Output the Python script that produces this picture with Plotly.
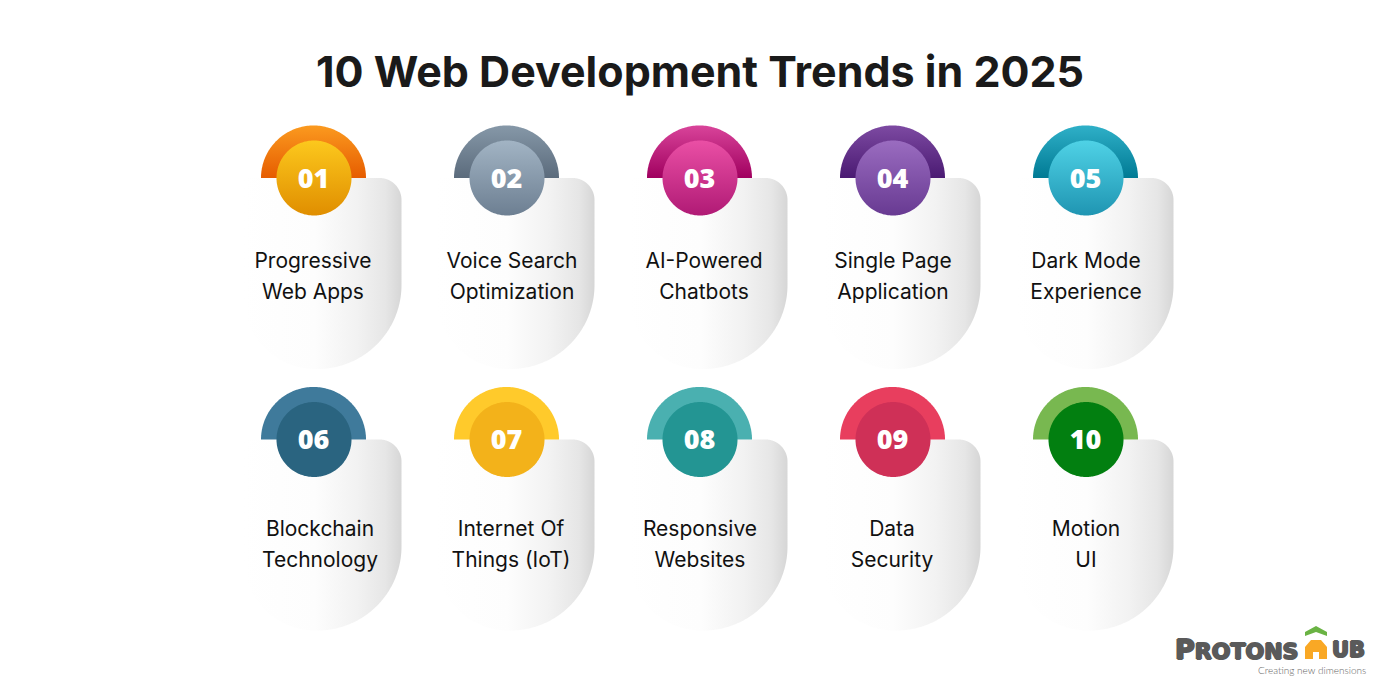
import numpy as np
import pandas as pd
import plotly.express as px
import plotly.graph_objects as go

# Les valeurs
numbers = ["01", "02", "03", "04", "05", "06", "07", "08", "09", "10"]
lines_top = ["Progressive", "Voice Search", "AI-Powered", "Single Page", "Dark Mode",
             "Blockchain", "Internet Of", "Responsive", "Data", "Motion"]
lines_bottom = ["Web Apps", "Optimization", "Chatbots", "Application", "Experience",
                "Technology", "Things (IoT)", "Websites", "Security", "UI"]
outer_top = ["#fb9a1f", "#8698a8", "#d9449a", "#7d4aa2", "#2fb0c8",
             "#3f7a9b", "#ffca2b", "#4ab0b0", "#e83e5e", "#78b850"]
outer_bottom = ["#e65c00", "#5b6b7c", "#a0005f", "#4a1a72", "#007a94",
                "#3f7a9b", "#ffca2b", "#4ab0b0", "#e83e5e", "#78b850"]
inner_top = ["#fcc81d", "#a2b4c4", "#ea4fa5", "#9a6cc0", "#4fd2e6",
             "#2a6480", "#f3b21a", "#239593", "#cf3057", "#027f10"]
inner_bottom = ["#e08e00", "#6d7f92", "#b01a75", "#683a92", "#1f95b2",
                "#2a6480", "#f3b21a", "#239593", "#cf3057", "#027f10"]

# Le centre des textes ne suit pas tout à fait la colonne
label_centers = [313, 512, 704, 893, 1086, 320, 511, 700, 892, 1086]

LOGO_GREY = "#5a5a5a"
THICK = f"1px 0 0 {LOGO_GREY}, -1px 0 0 {LOGO_GREY}, 0 1px 0 {LOGO_GREY}, 0 -1px 0 {LOGO_GREY}"  # lettres plus grasses


def arc(cx, cy, r, start, stop, n=120):
    """Renvoie les points d'un arc de cercle (repère en pixels, y vers le bas)."""
    angles = np.linspace(start, stop, n)
    return cx + r * np.cos(angles), cy - r * np.sin(angles)


def card_outline(left, right, top, bottom):
    """Contour de la carte : coin haut droit serré, deux grands coins en bas."""
    xa, ya = arc(right - 22, top + 22, 22, np.pi / 2, 0)
    xb, yb = arc(right - 84, bottom - 84, 84, 0, -np.pi / 2)
    xc, yc = arc(left + 72, bottom - 72, 72, -np.pi / 2, -np.pi)
    x = np.concatenate([[left], xa, xb, xc, [left]])
    y = np.concatenate([[top], ya, yb, yc, [top]])
    return x, y


def add_filled(fig, x, y, gradient_type, colorscale):
    """Ajoute une forme pleine avec un dégradé."""
    fig.add_trace(go.Scatter(x=x, y=y, mode="lines", fill="toself", line=dict(width=0, simplify=False),
                             fillgradient=dict(type=gradient_type, colorscale=colorscale),
                             hoverinfo="skip", showlegend=False))


def add_card(fig, i):
    """Dessine une carte complète : fond, demi-cercle et disque."""
    cx = 313.5 + 193 * (i % 5)
    cy = 178 if i < 5 else 439.5

    x, y = card_outline(cx - 70, cx + 88, cy, cy + 191)
    add_filled(fig, x, y, "horizontal", [[0, "#ffffff"], [0.45, "#fdfdfd"], [0.72, "#f2f2f2"],
                                         [0.9, "#e6e6e6"], [1, "#d6d6d6"]])

    # L'axe y est inversé, donc le dégradé vertical part du bas
    x, y = arc(cx, cy, 52.5, np.pi, 0)
    add_filled(fig, x, y, "vertical", [[0, outer_bottom[i]], [1, outer_top[i]]])

    x, y = arc(cx + 0.5, cy, 37.5, 0, 2 * np.pi, n=240)
    add_filled(fig, x, y, "vertical", [[0, inner_bottom[i]], [1, inner_top[i]]])


def add_logo(fig):
    """Dessine le logo en bas à droite (maison orange et toit vert)."""
    house_x = np.array([1305, 1311, 1321, 1327, 1327, 1319, 1319, 1313, 1313, 1305])
    house_y = np.array([647, 640, 640, 647, 659, 659, 652, 652, 659, 659])
    fig.add_trace(go.Scatter(x=house_x, y=house_y, mode="lines", fill="toself", line=dict(width=0),
                             fillcolor="#f9a825", hoverinfo="skip", showlegend=False))
    roof_x = np.array([1305, 1316, 1327, 1327, 1316, 1305])
    roof_y = np.array([632, 626, 632, 636, 632, 636])
    fig.add_trace(go.Scatter(x=roof_x, y=roof_y, mode="lines", fill="toself", line=dict(width=0),
                             fillcolor="#6ab344", hoverinfo="skip", showlegend=False))

    fig.add_annotation(x=1173, y=649.5, text="<span style='font-size:27px'>P</span>ROTONS", xanchor="left",
                       yanchor="middle", showarrow=False,
                       font=dict(family="DejaVu Sans", size=22, weight=700, color=LOGO_GREY, shadow=THICK))
    fig.add_annotation(x=1367, y=650, text="UB", xanchor="right", yanchor="middle", showarrow=False,
                       font=dict(family="DejaVu Sans", size=21, weight=700, color=LOGO_GREY, shadow=THICK))
    fig.add_annotation(x=1368, y=670, text="Creating new dimensions", xanchor="right", yanchor="middle",
                       showarrow=False, font=dict(family="Lato", size=10, weight=300, color="#666666"))


def build_labels():
    """Prépare le tableau des libellés, une ligne de texte par rangée."""
    row_top = [262.5 if i < 5 else 530.5 for i in range(10)]
    row_bottom = [293.5 if i < 5 else 561.5 for i in range(10)]
    df = pd.DataFrame({"x": label_centers + label_centers,
                       "y": row_top + row_bottom,
                       "label": lines_top + lines_bottom})
    return df


def main():
    fig = go.Figure()

    for i in range(len(numbers)):
        add_card(fig, i)

    # Les libellés et les numéros
    labels = px.scatter(build_labels(), x="x", y="y", text="label")
    labels.update_traces(mode="text", textposition="middle center", hoverinfo="skip",
                         textfont=dict(family="Inter", size=21, color="#111111"))
    fig.add_traces(labels.data)

    num_x = [313.5 + 193 * (i % 5) for i in range(10)]
    num_y = [181 if i < 5 else 442.5 for i in range(10)]
    fig.add_trace(go.Scatter(x=num_x, y=num_y, text=numbers, mode="text", textposition="middle center",
                             textfont=dict(family="Open Sans", size=27, weight=800, color="#ffffff"),
                             hoverinfo="skip", showlegend=False))

    add_logo(fig)

    fig.add_annotation(x=700, y=71, text="10 Web Development Trends in 2025", showarrow=False,
                       xanchor="center", yanchor="middle",
                       font=dict(family="Inter", size=43, weight=700, color="#1a1a1a"))

    # La page garde une marge de 8 px : les axes la compensent
    fig.update_xaxes(range=[8, 1392], visible=False, fixedrange=True)
    fig.update_yaxes(range=[692, 8], visible=False, fixedrange=True)
    fig.update_layout(width=1384, height=684, margin=dict(l=0, r=0, t=0, b=0), showlegend=False,
                      plot_bgcolor="#ffffff", paper_bgcolor="#ffffff")
    fig.write_html("out.html")


if __name__ == "__main__":
    main()
